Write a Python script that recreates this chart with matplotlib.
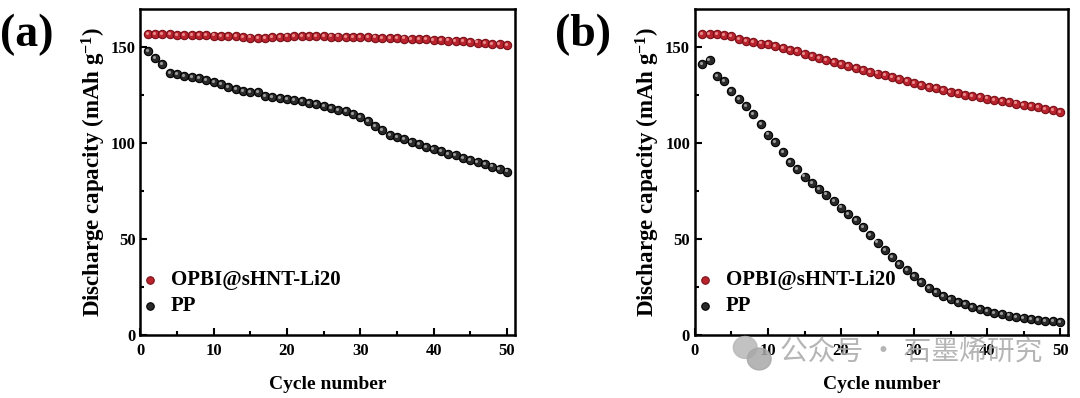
import numpy as np
import matplotlib
matplotlib.use("Agg")
import matplotlib.pyplot as plt
from matplotlib.patches import Ellipse
from matplotlib.ticker import MultipleLocator

plt.rcParams['font.family'] = ['Liberation Serif', 'DejaVu Serif']
plt.rcParams['font.weight'] = 'bold'
plt.rcParams['mathtext.fontset'] = 'custom'
plt.rcParams['mathtext.rm'] = 'Liberation Serif:bold'
plt.rcParams['mathtext.default'] = 'rm'

cycles = np.arange(1, 51)

# panel (a)
opbi_a = [157.0, 157.0, 156.8, 156.7, 156.5, 156.4, 156.3, 156.2, 156.1, 156.0,
          155.9, 155.8, 155.6, 155.3, 155.0, 154.6, 154.9, 155.2, 155.4, 155.5,
          155.6, 155.6, 155.7, 155.7, 155.6, 155.5, 155.5, 155.4, 155.3, 155.2,
          155.1, 155.0, 154.9, 154.8, 154.6, 154.5, 154.3, 154.2, 154.0, 153.8,
          153.6, 153.4, 153.2, 153.0, 152.7, 152.4, 152.1, 151.8, 151.4, 151.0]
pp_a = [147.9, 144.5, 141.0, 136.7, 135.9, 135.0, 134.5, 133.8, 132.8, 132.0,
        130.7, 129.3, 128.1, 126.9, 126.4, 126.6, 124.7, 123.8, 123.4, 122.9,
        122.4, 121.7, 120.9, 120.3, 119.5, 118.3, 117.2, 116.6, 115.2, 113.4,
        111.7, 109.1, 106.6, 104.0, 103.1, 101.9, 100.5, 99.3, 97.9, 97.1,
        95.9, 94.5, 93.6, 92.4, 91.0, 90.2, 89.0, 87.8, 86.5, 85.2]

# panel (b)
opbi_b = [156.6, 156.9, 156.6, 156.4, 155.7, 154.0, 153.1, 152.6, 151.9, 151.4,
          150.5, 149.7, 148.6, 147.9, 146.6, 145.2, 144.5, 143.4, 142.4, 141.4,
          140.2, 139.1, 137.9, 137.1, 136.2, 135.3, 134.3, 133.2, 132.3, 131.3,
          130.4, 129.4, 128.5, 127.6, 126.8, 125.9, 125.2, 124.6, 124.0, 123.2,
          122.6, 122.0, 121.3, 120.6, 119.8, 119.2, 118.6, 117.8, 117.2, 116.4]
pp_b = [141.0, 143.4, 134.8, 132.2, 127.2, 122.9, 119.3, 115.2, 110.0, 104.5,
        100.7, 95.5, 90.2, 86.4, 82.6, 79.3, 76.2, 73.2, 69.8, 66.4,
        63.1, 59.8, 56.2, 52.2, 48.2, 44.1, 40.7, 37.2, 34.1, 30.9,
        27.8, 24.7, 22.6, 20.3, 18.8, 17.4, 16.0, 14.8, 13.6, 12.6,
        11.7, 10.9, 10.2, 9.5, 8.8, 8.3, 7.8, 7.4, 7.1, 6.8]

labels = ['OPBI@sHNT-Li20', 'PP']
panel_tags = ['(a)', '(b)']

red = '#b8232e'
red_edge = '#7a0f17'
black = '#2a2a2a'
black_edge = '#000000'

fig = plt.figure(figsize=(10.8, 3.98), dpi=100)
ax_a = fig.add_axes([0.130, 0.158, 0.3468, 0.820])
ax_b = fig.add_axes([0.6435, 0.158, 0.3455, 0.820])


def draw_panel(ax, red_vals, black_vals, tag):
    ax.scatter(cycles, red_vals, s=36, c=red, edgecolors=red_edge, linewidths=0.8,
               label=labels[0], zorder=3)
    ax.scatter(cycles, black_vals, s=36, c=black, edgecolors=black_edge, linewidths=0.8,
               label=labels[1], zorder=3)
    # small highlight to mimic the glossy balls
    ax.scatter(cycles - 0.15, np.array(red_vals) + 0.6, s=5, c='#e88a8a', linewidths=0, zorder=4)
    ax.scatter(cycles - 0.15, np.array(black_vals) + 0.6, s=5, c='#9a9a9a', linewidths=0, zorder=4)

    ax.set_xlim(0, 51.1)
    ax.set_ylim(0, 170)
    ax.xaxis.set_major_locator(MultipleLocator(10))
    ax.xaxis.set_minor_locator(MultipleLocator(5))
    ax.yaxis.set_major_locator(MultipleLocator(50))
    ax.yaxis.set_minor_locator(MultipleLocator(25))
    ax.tick_params(which='both', direction='in', top=False, right=False,
                   width=1.5, labelsize=12)
    ax.tick_params(which='major', length=5)
    ax.tick_params(which='minor', length=3)
    ax.tick_params(axis='x', pad=6)
    for sp in ax.spines.values():
        sp.set_linewidth(1.8)
    for lab in ax.get_xticklabels() + ax.get_yticklabels():
        lab.set_fontweight('bold')

    ax.set_xlabel('Cycle number', fontsize=14, fontweight='bold', labelpad=12)
    ax.set_ylabel(r'Discharge capacity (mAh g$^{-1}$)', fontsize=16.5,
                  fontweight='bold', labelpad=2)

    leg = ax.legend(loc='lower left', bbox_to_anchor=(-0.046, 0.0), frameon=False,
                    fontsize=15, handlelength=0.8, handletextpad=0.6,
                    labelspacing=0.3, scatterpoints=1, markerscale=0.9)
    for t in leg.get_texts():
        t.set_fontweight('bold')

    ax.text(-0.375, 0.985, tag, transform=ax.transAxes, fontsize=33,
            fontweight='bold', ha='left', va='top')


draw_panel(ax_a, opbi_a, pp_a, panel_tags[0])
draw_panel(ax_b, opbi_b, pp_b, panel_tags[1])

# watermark of the source page
fig.text(0.722, 0.115, '公众号 · 石墨烯研究', fontsize=20, color='#a8a8a8',
         alpha=0.85, family=['Noto Sans CJK SC', 'DejaVu Sans'],
         ha='left', va='center', fontweight='normal', zorder=10)
fig.patches.append(Ellipse((0.690, 0.127), 0.022, 0.055, transform=fig.transFigure,
                           color='#b8b8b8', alpha=0.85, zorder=10))
fig.patches.append(Ellipse((0.703, 0.098), 0.022, 0.055, transform=fig.transFigure,
                           color='#a8a8a8', alpha=0.85, zorder=10))

fig.savefig('out.png', dpi=100)
